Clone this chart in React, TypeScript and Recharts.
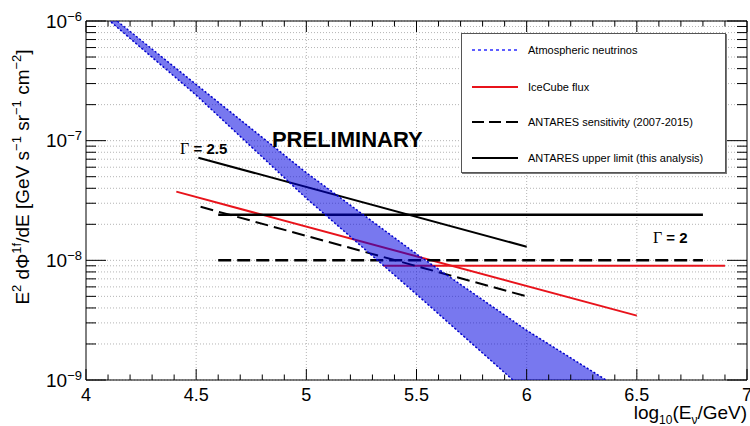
import React from 'react';
import {
  ComposedChart,
  Line,
  Area,
  XAxis,
  YAxis,
  CartesianGrid,
  ReferenceLine,
  ReferenceArea,
  ReferenceDot,
  Legend,
} from 'recharts';

// ---------- data ----------
const bandX = [4.1, 4.5, 5.0, 5.5, 6.0, 6.4];
const bandLow = [1.03e-6, 2.4e-7, 3.3e-8, 5.2e-9, 7.9e-10, 1.7e-10];
const bandHigh = [1.15e-6, 2.95e-7, 5.4e-8, 1.13e-8, 2.6e-9, 9.0e-10];

const icecubeSoftX = [4.41, 6.5];
const icecubeSoftY = [3.75e-8, 3.45e-9];
const icecubeHardX = [5.35, 6.9];
const icecubeHardY = [9.0e-9, 9.0e-9];

const ulSoftX = [4.51, 6.0];
const ulSoftY = [7.2e-8, 1.3e-8];
const ulHardX = [4.6, 6.8];
const ulHardY = [2.4e-8, 2.4e-8];

const sensSoftX = [4.52, 6.0];
const sensSoftY = [2.8e-8, 5.0e-9];
const sensHardX = [4.6, 6.8];
const sensHardY = [1.0e-8, 1.0e-8];

const xTicks = [
  4, 4.1, 4.2, 4.3, 4.4, 4.5, 4.6, 4.7, 4.8, 4.9,
  5, 5.1, 5.2, 5.3, 5.4, 5.5, 5.6, 5.7, 5.8, 5.9,
  6, 6.1, 6.2, 6.3, 6.4, 6.5, 6.6, 6.7, 6.8, 6.9, 7,
];
const xMajorTicks = [4, 4.5, 5, 5.5, 6, 6.5, 7];
const xTickLabels = ['4', '4.5', '5', '5.5', '6', '6.5', '7'];
const xGridValues = [4.5, 5, 5.5, 6, 6.5];

const yTicks = [
  1e-9, 2e-9, 3e-9, 4e-9, 5e-9, 6e-9, 7e-9, 8e-9, 9e-9,
  1e-8, 2e-8, 3e-8, 4e-8, 5e-8, 6e-8, 7e-8, 8e-8, 9e-8,
  1e-7, 2e-7, 3e-7, 4e-7, 5e-7, 6e-7, 7e-7, 8e-7, 9e-7,
  1e-6,
];
const yDecades = [1e-9, 1e-8, 1e-7, 1e-6];
const yDecadeExponents = ['\u22129', '\u22128', '\u22127', '\u22126'];

const legendLabels = [
  'Atmospheric neutrinos',
  'IceCube flux',
  'ANTARES sensitivity (2007-2015)',
  'ANTARES upper limit (this analysis)',
];

const annotationText = ['PRELIMINARY', '= 2.5', '= 2'];
const annotationX = [5.186, 4.427, 6.573];
const annotationY = [8.85e-8, 7.75e-8, 1.4e-8];

// ---------- derived tables ----------
const pairs = (xs: number[], ys: number[]) => xs.map((x, i) => ({ x, y: ys[i] }));
const bandData = bandX.map((x, i) => ({ x, band: [bandLow[i], bandHigh[i]] }));

// ---------- layout / style ----------
const W = 750;
const H = 426;
const PLOT_TOP = 21;
const PLOT_RIGHT = 747;
const FONT = '"Liberation Sans", Arial, Helvetica, sans-serif';
const SERIF = '"Liberation Serif", "Times New Roman", serif';
const RED = '#e8131b';
const GRID = '#b4b4b4';

const XTick = (props: any) => {
  const { x, y, payload } = props;
  const v = payload.value;
  const idx = xMajorTicks.findIndex((m) => Math.abs(m - v) < 1e-6);
  const major = idx >= 0;
  const len = major ? 11 : 5.5;
  return (
    <g>
      <line x1={x} x2={x} y1={y} y2={y - len} stroke="#000" strokeWidth={1} />
      <line x1={x} x2={x} y1={PLOT_TOP} y2={PLOT_TOP + len} stroke="#000" strokeWidth={1} />
      {major && (
        <text x={x} y={y + 20.5} textAnchor="middle" fontSize={18} fontFamily={FONT} fill="#000">
          {xTickLabels[idx]}
        </text>
      )}
    </g>
  );
};

const YTick = (props: any) => {
  const { x, y, payload } = props;
  const v = payload.value;
  const idx = yDecades.findIndex((d) => Math.abs(v / d - 1) < 1e-6);
  const major = idx >= 0;
  const len = major ? 20 : 10;
  return (
    <g>
      <line x1={x} x2={x + len} y1={y} y2={y} stroke="#000" strokeWidth={1} />
      <line x1={PLOT_RIGHT} x2={PLOT_RIGHT - len} y1={y} y2={y} stroke="#000" strokeWidth={1} />
      {major && (
        <text x={x - 4} y={y + 6.5} textAnchor="end" fontSize={19} fontFamily={FONT} fill="#000">
          10
          <tspan dy={-7} fontSize={13}>
            {yDecadeExponents[idx]}
          </tspan>
        </text>
      )}
    </g>
  );
};

const LegendBox = () => {
  const rows = [16, 53, 88, 124];
  const samples = [
    { stroke: '#2a2aff', dash: '3 3', w: 1.5 },
    { stroke: RED, dash: undefined, w: 2 },
    { stroke: '#000', dash: '12 5', w: 2 },
    { stroke: '#000', dash: undefined, w: 2 },
  ];
  return (
    <div
      style={{
        position: 'relative',
        width: 265,
        height: 140,
        background: '#fff',
        border: '1px solid #555',
        boxSizing: 'border-box',
        boxShadow: '1px 1px 0 #777',
        fontFamily: FONT,
        fontSize: 11,
        color: '#000',
      }}
    >
      {legendLabels.map((label, i) => (
        <div key={label} style={{ position: 'absolute', left: 0, top: rows[i] - 8, height: 16, width: 265 }}>
          <svg width={60} height={16} style={{ position: 'absolute', left: 0, top: 0 }}>
            <line
              x1={10}
              x2={56}
              y1={8}
              y2={8}
              stroke={samples[i].stroke}
              strokeWidth={samples[i].w}
              strokeDasharray={samples[i].dash}
            />
          </svg>
          <span style={{ position: 'absolute', left: 66, top: 1, whiteSpace: 'nowrap', lineHeight: '14px' }}>
            {label}
          </span>
        </div>
      ))}
    </div>
  );
};

const textShape = (i: number) => (p: any) => {
  if (i === 0) {
    return (
      <text x={p.cx} y={p.cy} textAnchor="middle" fontSize={22} fontWeight="bold" fontFamily={FONT} fill="#000">
        {annotationText[0]}
      </text>
    );
  }
  return (
    <text x={p.cx} y={p.cy} fontSize={15} fontFamily={FONT} fill="#000">
      <tspan fontFamily={SERIF} fontSize={16}>
        {'\u0393'}
      </tspan>
      <tspan fontWeight="bold">{' ' + annotationText[i]}</tspan>
    </text>
  );
};

export default function App() {
  return (
    <div style={{ position: 'absolute', left: 0, top: 0, width: W, height: H, background: '#fff' }}>
      <ComposedChart width={W} height={H} margin={{ top: PLOT_TOP, right: W - PLOT_RIGHT, bottom: 0, left: 0 }}>
        <CartesianGrid vertical={false} stroke={GRID} strokeDasharray="1 2" />
        {xGridValues.map((v) => (
          <ReferenceLine key={v} x={v} stroke={GRID} strokeDasharray="1 2" />
        ))}
        <XAxis
          dataKey="x"
          type="number"
          domain={[4, 7]}
          ticks={xTicks}
          interval={0}
          allowDataOverflow
          height={46}
          tickSize={0}
          tickMargin={0}
          axisLine={false}
          tick={<XTick />}
        />
        <YAxis
          type="number"
          scale="log"
          domain={[1e-9, 1e-6]}
          ticks={yTicks}
          interval={0}
          allowDataOverflow
          width={86}
          tickSize={0}
          tickMargin={0}
          axisLine={false}
          tick={<YTick />}
        />

        <Line data={pairs(icecubeSoftX, icecubeSoftY)} dataKey="y" stroke={RED} strokeWidth={2} dot={false} activeDot={false} isAnimationActive={false} />
        <Line data={pairs(icecubeHardX, icecubeHardY)} dataKey="y" stroke={RED} strokeWidth={2} dot={false} activeDot={false} isAnimationActive={false} />
        <Line data={pairs(ulSoftX, ulSoftY)} dataKey="y" stroke="#000" strokeWidth={2} dot={false} activeDot={false} isAnimationActive={false} />
        <Line data={pairs(ulHardX, ulHardY)} dataKey="y" stroke="#000" strokeWidth={2.5} dot={false} activeDot={false} isAnimationActive={false} />
        <Line data={pairs(sensSoftX, sensSoftY)} dataKey="y" stroke="#000" strokeWidth={2} strokeDasharray="13 6" dot={false} activeDot={false} isAnimationActive={false} />
        <Line data={pairs(sensHardX, sensHardY)} dataKey="y" stroke="#000" strokeWidth={2.5} strokeDasharray="13 6" dot={false} activeDot={false} isAnimationActive={false} />

        <Area
          data={bandData}
          dataKey="band"
          type="linear"
          fill="#0000e0"
          fillOpacity={0.53}
          stroke="#0000cc"
          strokeWidth={1.5}
          strokeDasharray="2 2"
          dot={false}
          activeDot={false}
          isAnimationActive={false}
          zIndex={450}
        />

        <ReferenceArea x1={4} x2={7} y1={1e-9} y2={1e-6} fill="none" stroke="#000" strokeWidth={1} ifOverflow="visible" />

        {annotationText.map((t, i) => (
          <ReferenceDot key={t} x={annotationX[i]} y={annotationY[i]} r={0} shape={textShape(i)} />
        ))}

        <Legend
          layout="vertical"
          align="center"
          verticalAlign="middle"
          wrapperStyle={{ left: 461, top: 33, width: 265, height: 140 }}
          content={() => <LegendBox />}
        />

        <text transform="translate(29, 177) rotate(-90)" textAnchor="middle" fontSize={19} fontFamily={FONT} fill="#000">
          E<tspan dy={-8} fontSize={13}>2</tspan>
          <tspan dy={8}> d{'\u03A6'}</tspan>
          <tspan dy={-8} fontSize={13}>1f</tspan>
          <tspan dy={8}>/dE [GeV s</tspan>
          <tspan dy={-8} fontSize={13}>{'\u22121'}</tspan>
          <tspan dy={8}> sr</tspan>
          <tspan dy={-8} fontSize={13}>{'\u22121'}</tspan>
          <tspan dy={8}> cm</tspan>
          <tspan dy={-8} fontSize={13}>{'\u22122'}</tspan>
          <tspan dy={8}>]</tspan>
        </text>

        <text x={PLOT_RIGHT} y={419} textAnchor="end" fontSize={19} fontFamily={FONT} fill="#000">
          log<tspan dy={5} fontSize={12}>10</tspan>
          <tspan dy={-5}>(E</tspan>
          <tspan dy={5} fontSize={12}>{'\u03BD'}</tspan>
          <tspan dy={-5}>/GeV)</tspan>
        </text>
      </ComposedChart>
    </div>
  );
}
